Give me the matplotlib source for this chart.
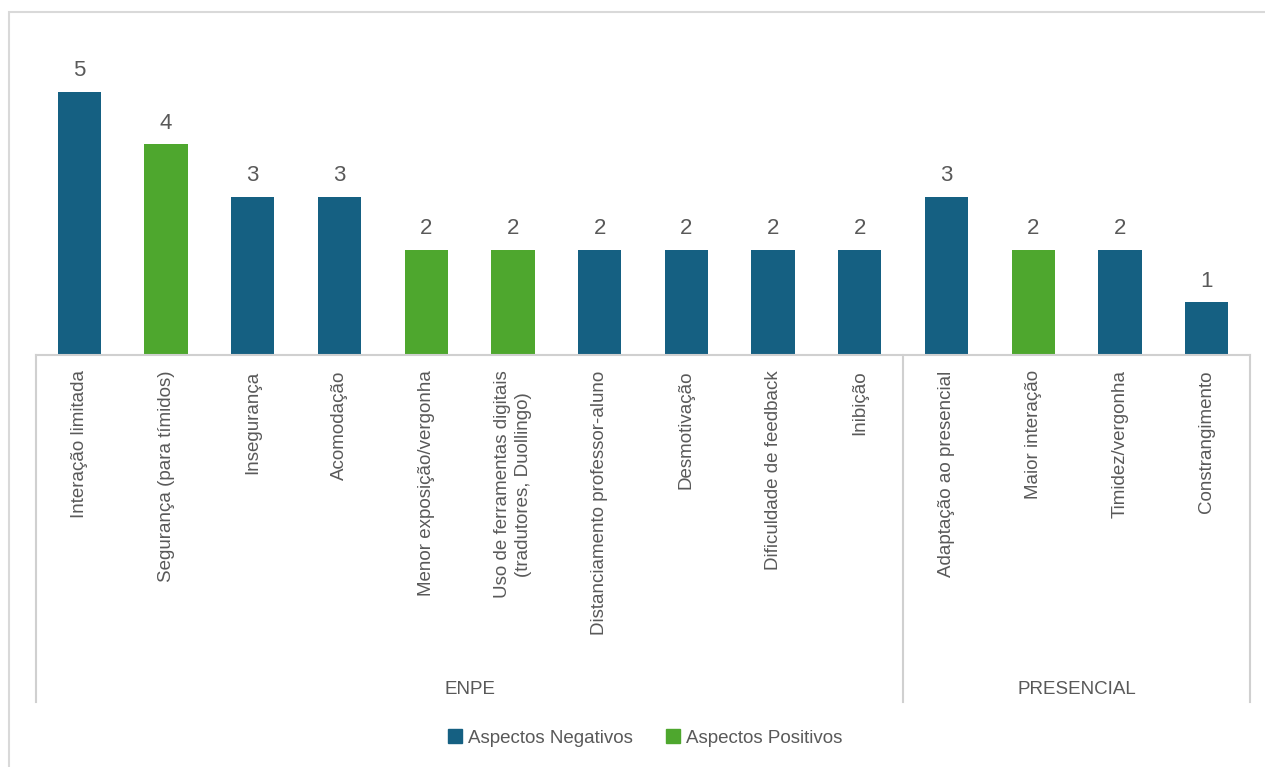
import matplotlib.pyplot as plt
from matplotlib.patches import Rectangle

categories = ["Interação limitada", "Segurança (para tímidos)", "Insegurança", "Acomodação",
              "Menor exposição/vergonha", "Uso de ferramentas digitais\n(tradutores, Duollingo)",
              "Distanciamento professor-aluno", "Desmotivação", "Dificuldade de feedback", "Inibição",
              "Adaptação ao presencial", "Maior interação", "Timidez/vergonha", "Constrangimento"]
values = [5, 4, 3, 3, 2, 2, 2, 2, 2, 2, 3, 2, 2, 1]
aspect = ["neg", "pos", "neg", "neg", "pos", "pos", "neg", "neg", "neg", "neg",
          "neg", "pos", "neg", "neg"]
groups = ["ENPE", "PRESENCIAL"]
group_sizes = [10, 4]

blue = "#156082"
green = "#4EA72E"
txt = "#595959"
grid_c = "#d0d0d0"

plt.rcParams['font.family'] = ['Liberation Sans', 'DejaVu Sans']

W, H = 1265, 767
fig = plt.figure(figsize=(W / 100, H / 100), dpi=100)
fig.patches.append(Rectangle((9 / W, -0.1), 1.2, 1 - 12 / H + 0.1, transform=fig.transFigure,
                             fill=False, edgecolor="#d9d9d9", linewidth=1.5))

ax = fig.add_axes([36 / W, (H - 355) / H, (1250 - 36) / W, 316 / H])
x = list(range(len(values)))
colors = [blue if a == "neg" else green for a in aspect]
bars = ax.bar(x, values, width=0.5, color=colors)
for xi, v in zip(x, values):
    ax.text(xi, v + 0.2, str(v), ha="center", va="bottom", fontsize=16, color=txt)

ax.set_xlim(-0.5, len(values) - 0.5)
ax.set_ylim(0, 6)
ax.set_yticks([])
ax.set_xticks(x)
ax.set_xticklabels(categories, rotation=90, fontsize=13.5, color=txt,
                   multialignment="center", linespacing=1.35)
ax.tick_params(axis="x", length=0, pad=11)
for s in ["top", "left", "right"]:
    ax.spines[s].set_visible(False)
ax.spines["bottom"].set_color(grid_c)
ax.spines["bottom"].set_linewidth(1.5)

# group separators and labels under the axis
trans = ax.get_xaxis_transform()
bottom = -(702 - 355) / 316
edges = [-0.5]
for n in group_sizes:
    edges.append(edges[-1] + n)
for e in edges:
    ax.plot([e, e], [0, bottom], color=grid_c, linewidth=1.5, transform=trans, clip_on=False)
for g, a, b in zip(groups, edges[:-1], edges[1:]):
    ax.text((a + b) / 2, -(690 - 355) / 316, g, ha="center", va="center", fontsize=13.5,
            color=txt, transform=trans)

# legend
handles = [Rectangle((0, 0), 1, 1, color=blue), Rectangle((0, 0), 1, 1, color=green)]
fig.legend(handles, ["Aspectos Negativos", "Aspectos Positivos"], loc="center",
           bbox_to_anchor=(645 / W, 1 - 738 / H), ncol=2, frameon=False, fontsize=13.5,
           labelcolor=txt, handlelength=0.75, handleheight=0.75, handletextpad=0.3,
           columnspacing=1.8)

fig.savefig("out.png", dpi=100)
